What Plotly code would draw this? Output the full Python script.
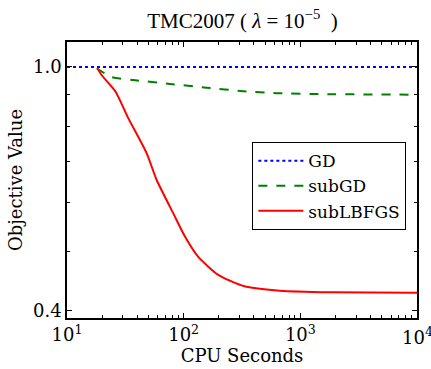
import plotly.graph_objects as go
import math

# Data
gd_x = [10, 10000]
gd_y = [1.0, 1.0]

subgd_x = [18.0, 24.2, 37, 76.4, 157, 324, 627, 1571, 8690, 10000]
subgd_y = [0.995, 0.962, 0.952, 0.938, 0.925, 0.913, 0.906, 0.903, 0.901, 0.901]

sublbfgs_x = [18.2, 19.8, 26.1, 33.5, 48.2, 58.7, 81.5, 102.6, 133.4, 197.8, 275, 346.5, 668, 1794, 9220, 10000]
sublbfgs_y = [0.995, 0.970, 0.911, 0.825, 0.723, 0.654, 0.577, 0.529, 0.490, 0.458, 0.4446, 0.438, 0.4315, 0.429, 0.4285, 0.4285]

x_ticks = [10, 100, 1000, 10000]
x_ticktext = ["10<sup>1</sup>", "10<sup>2</sup>", "10<sup>3</sup>", "10<sup>4</sup>"]
x_minor = [m * 10 ** k for k in range(1, 4) for m in range(2, 10)]
y_ticks = [0.4, 1.0]
y_ticktext = ["0.4", "1.0"]
y_minor = [0.5, 0.6, 0.7, 0.8, 0.9]

SERIF = "DejaVu Serif"

fig = go.Figure()
fig.add_trace(go.Scatter(x=gd_x, y=gd_y, mode="lines", name="GD",
                         line=dict(color="#0000ff", width=2, dash="dot")))
fig.add_trace(go.Scatter(x=subgd_x, y=subgd_y, mode="lines", name="subGD",
                         line=dict(color="#008000", width=2, dash="dash", shape="spline", smoothing=0.6)))
fig.add_trace(go.Scatter(x=sublbfgs_x, y=sublbfgs_y, mode="lines", name="subLBFGS",
                         line=dict(color="#ff0000", width=2, shape="spline", smoothing=0.6)))

# last x tick label would be dropped by plotly at the paper edge; draw it as an annotation
shown_ticktext = x_ticktext[:-1] + [""]
fig.add_annotation(x=math.log10(x_ticks[-1]), xref="x", y=0, yref="paper",
                   yshift=-4, text=x_ticktext[-1], showarrow=False,
                   xanchor="center", yanchor="top",
                   font=dict(family=SERIF, size=18, color="black"))

fig.update_layout(
    width=431, height=369,
    margin=dict(l=67, r=14, t=42, b=51, autoexpand=False),
    paper_bgcolor="white", plot_bgcolor="white",
    font=dict(family=SERIF, size=17, color="black"),
    title=dict(text="TMC2007 ( <i>λ</i> = 10<sup>−5</sup>  )", x=0.5625, xanchor="center",
               y=0.945, yanchor="middle",
               font=dict(family="Liberation Serif", size=21, color="black")),
    showlegend=True,
    legend=dict(x=0.969, y=0.638, xanchor="right", yanchor="top",
                bgcolor="white", bordercolor="black", borderwidth=1.2,
                font=dict(family=SERIF, size=17), tracegroupgap=0,
                itemwidth=45),
)

fig.update_xaxes(
    type="log", range=[1, 4],
    tickmode="array", tickvals=x_ticks, ticktext=shown_ticktext,
    ticks="inside", ticklen=5, tickwidth=1, tickcolor="black",
    minor=dict(tickmode="array", tickvals=x_minor, ticks="inside", ticklen=3,
               tickwidth=1, tickcolor="black", showgrid=False),
    showline=True, linecolor="black", linewidth=1.5, mirror="ticks",
    showgrid=False, zeroline=False, automargin=False,
    tickfont=dict(family=SERIF, size=18),
    title=dict(text="CPU Seconds", font=dict(family=SERIF, size=18), standoff=4),
)
fig.update_yaxes(
    type="log", range=[math.log10(0.3896), math.log10(1.098)],
    tickmode="array", tickvals=y_ticks, ticktext=y_ticktext,
    ticks="inside", ticklen=5, tickwidth=1, tickcolor="black",
    minor=dict(tickmode="array", tickvals=y_minor, ticks="inside", ticklen=3,
               tickwidth=1, tickcolor="black", showgrid=False),
    showline=True, linecolor="black", linewidth=1.5, mirror="ticks",
    showgrid=False, zeroline=False, automargin=False,
    tickfont=dict(family=SERIF, size=18),
    title=dict(text="Objective Value", font=dict(family=SERIF, size=18), standoff=6),
)

fig.write_html("out.html")
